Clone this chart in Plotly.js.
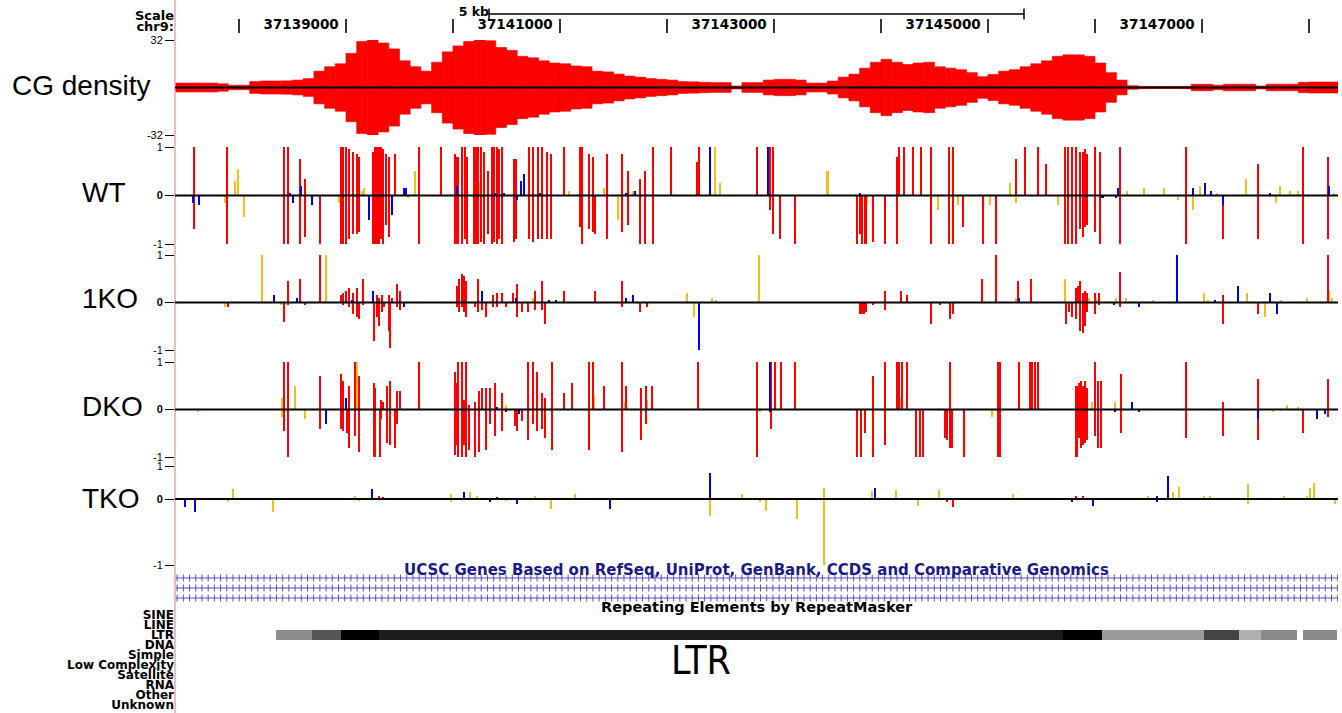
<!DOCTYPE html>
<html><head><meta charset="utf-8">
<script src="https://cdn.plot.ly/plotly-3.0.1.min.js"></script>
<style>html,body{margin:0;padding:0;background:#fff}#chart{width:1342px;height:713px}</style>
</head><body><div id="chart"></div>
<script>
// ---------------- DATA ----------------
const viewStart = 37137402, viewEnd = 37148271;
const coordTicks = [37138000,37139000,37140000,37141000,37142000,37143000,37144000,37145000,37146000,37147000,37148000];
const coordLabels = ['','37139000','','37141000','','37143000','','37145000','','37147000',''];
const scaleBarBp = 5000, scaleBarLabel = '5 kb';

// CG density, 100 bp bins
const cgStart = 37137400, cgStep = 100;
const cgDensity = [3,3,3,3,2.5,1.5,1.5,4,4.4,4.4,
4.5,5,6,11,14,16,23,31,32,30,
26,18,14,11,17,24,28,31,32.5,31.5,
27,25,21,20,18,16.5,16,14.5,14,11,
10.5,9,7.7,7,6,5.5,5,4,3.8,3.5,
3.3,3.3,1,3.3,3.3,5,5.5,5.5,5,3,
3,4.4,7,9,13,17,19,17,15.5,16.5,
17,14,13,12,10,7.3,8.8,11,12,14,
16,18,21,22,22,21,16.5,10,5,1.2,
0.8,0.7,0.7,0.7,0.8,2.2,2.2,1.5,2.2,2.2,
2.2,1,2.2,2.2,2.2,3.5,3.7,3.7,3.7];

// methylation sites: [position, plus-strand value, minus-strand value]
const wtRed = [[37137579,1,-0.7],[37137892,1,-1],[37138425,1,-1],[37138455,1,-1],[37138567,0.75,-1],[37138621,0.35,-0.85],[37138759,0,-1],
[37138955,1,-1],[37138975,1,-1],[37138996,1,-1],[37139025,0.95,-0.9],[37139067,0.9,-0.8],[37139100,0.85,-0.8],[37139125,0.8,-0.75],
[37139250,0.9,-1],[37139267,1,-1],[37139288,1,-1],[37139309,1,-1],[37139330,1,-0.9],[37139350,0.95,-1],[37139375,0.85,-0.6],[37139400,0.8,-0.85],
[37139459,0.85,0],[37139684,1,-1],[37139892,1,0],[37140017,0.85,-1],[37140042,0.8,-1],[37140084,1,-1],[37140109,1,-0.9],[37140134,0.8,-1],
[37140192,1,-1],[37140217,1,-1],[37140238,1,-1],[37140259,1,-0.95],[37140292,0.9,-1],[37140330,0.5,-0.8],[37140363,1,-1],[37140384,1,-0.95],
[37140409,1,-1],[37140434,0.95,-0.9],[37140459,1,-1],[37140567,0.75,-0.95],[37140592,0.75,-0.9],[37140709,1,-0.9],[37140750,1,-0.95],
[37140792,1,-0.9],[37140834,1,-0.9],[37140875,0.9,-0.9],[37140917,0.85,-0.9],[37141038,1,0],[37141184,1,-0.65],[37141209,1,-1],
[37141275,0.85,-0.7],[37141309,0.8,-0.75],[37141330,0,-0.8],[37141442,0.85,-0.9],[37141580,0.85,-0.75],[37141634,0.5,-0.6],[37141750,0.35,-1],
[37141792,0.5,-1],[37141871,1,-1],[37142038,1,0],[37142280,0.7,0],[37142300,1,0],[37142844,1,0],[37142965,1,-0.3],[37142988,1,-0.8],
[37143058,0,-0.9],[37143194,0,-1],[37143772,0,-1],[37143801,0,-0.8],[37143822,0,-1],[37143855,0,-1],[37143925,0,-0.95],[37144036,0,-1],
[37144152,0.8,-1],[37144172,1,0],[37144214,1,0],[37144296,1,0],[37144378,1,0],[37144469,1,-1],[37144638,1,-1],[37144671,1,-1],
[37144770,0,-0.65],[37144956,0,-1],[37145072,0,-1],[37145266,0.75,0],[37145348,1,0],[37145464,1,0],[37145542,0.65,0],[37145719,1,-1],
[37145744,1,-1],[37145781,1,-1],[37145823,1,-1],[37145864,0.9,-0.7],[37145884,0.9,-0.85],[37145905,0.95,-0.65],[37145926,0.85,-0.6],
[37146000,1,-0.75],[37146050,0.9,-1],[37146235,1,-1],[37146846,1,-1],[37147197,0,-0.9],[37147527,0.65,-0.9],[37147948,1,-1],[37148174,0.8,-0.9]];
const wtYellow = [[37137871,0,-0.15],[37137963,0.3,0],[37137988,0.55,0],[37138050,0,-0.45],[37138934,0,-0.15],[37139150,0.1,0],[37139171,0.15,0],
[37139579,0,-0.05],[37139642,0.5,0],[37140246,0.25,0],[37141080,0.1,0],[37141413,0.15,0],[37141538,0,-0.5],[37141684,0.1,0],[37142452,1,0],
[37142493,0.25,0],[37143500,0.5,0],[37143871,0,-0.2],[37144296,0.15,0],[37144531,0,-0.3],[37144721,0,-0.2],[37145018,0,-0.2],[37145204,0.25,0],
[37145266,0,-0.15],[37145658,0,-0.2],[37146297,0.1,0],[37146462,0.15,0],[37146648,0.15,0],[37146772,0,-0.1],[37146916,0,-0.3],[37146978,0.2,0],
[37147143,0.05,0],[37147411,0.35,0],[37147692,0,-0.15],[37147733,0.2,0],[37147824,0.1,0],[37147898,0.1,0],[37148236,0.05,0]];
const wtBlue = [[37137567,0,-0.15],[37137630,0,-0.2],[37138475,0.05,0],[37138509,0,-0.15],[37138580,0.2,0],[37138684,0,-0.2],[37139217,0,-0.5],
[37139434,0,-0.4],[37139538,0.15,0],[37139559,0.15,0],[37140038,0.2,0],[37140392,0.05,0],[37140475,0.05,0],[37140600,0,-0.1],[37140634,0.3,0],
[37140663,0.45,0],[37140809,0.05,0],[37141621,0.05,0],[37141705,0.1,0],[37142398,1,0],[37142947,1,0],[37143801,0.05,0],[37146070,0,-0.05],
[37146194,0,-0.05],[37146214,0.15,0],[37146916,0.15,0],[37147032,0.25,0],[37147081,0.1,0],[37147197,0,-0.2],[37147638,0.05,0],[37148187,0.2,0]];

const ko1Red = [[37137900,0,-0.1],[37138425,0,-0.4],[37138459,0.45,-0.05],[37138567,0.5,0],[37138621,0,-0.05],[37138759,1,0],[37138955,0.15,0],
[37138975,0.2,-0.05],[37138996,0.25,0],[37139025,0.3,-0.1],[37139067,0.2,-0.25],[37139100,0.3,-0.3],[37139121,0,-0.35],[37139163,0.5,-0.05],
[37139259,0,-0.8],[37139288,0.15,-0.3],[37139309,0.1,-0.5],[37139334,0.15,-0.2],[37139359,0,-0.1],[37139400,0.15,-0.6],[37139413,0,-0.95],
[37139434,0.1,0],[37139475,0.4,-0.1],[37139509,0.25,-0.15],[37140038,0.35,-0.1],[37140059,0.5,-0.2],[37140080,0.6,-0.1],[37140100,0.55,-0.2],
[37140122,0.45,-0.3],[37140205,0,-0.1],[37140238,0.5,-0.2],[37140267,0.1,-0.15],[37140309,0,-0.3],[37140371,0.15,-0.1],[37140413,0.2,-0.1],
[37140455,0.2,0],[37140496,0,-0.1],[37140559,0.2,0],[37140600,0.4,-0.3],[37140642,0,-0.2],[37140704,0,-0.2],[37140767,0.25,-0.15],
[37140830,0.45,-0.15],[37140859,0,-0.45],[37141038,0.25,0],[37141330,0.25,0],[37141580,0.45,-0.1],[37141746,0,-0.2],[37141809,0,-0.1],
[37143801,0,-0.25],[37143822,0,-0.25],[37143842,0,-0.25],[37143863,0,-0.2],[37143925,0,-0.05],[37144036,0.25,-0.15],[37144185,0.25,0],
[37144247,0.15,0],[37144469,0,-0.45],[37144552,0,-0.05],[37144647,0,-0.35],[37144676,0,-0.25],[37144948,0.5,0],[37145072,1,0],[37145278,0.45,0],
[37145398,0.5,0],[37145728,0,-0.45],[37145761,0,-0.2],[37145782,0,-0.3],[37145823,0.3,-0.35],[37145843,0.35,0],[37145864,0.45,-0.6],
[37145884,0.2,-0.65],[37145905,0.25,-0.5],[37145926,0.2,-0.2],[37146000,0.2,-0.25],[37146041,0.2,-0.05],[37146235,0.65,-0.1],[37147197,0.15,-0.45],
[37147527,0,-0.25],[37148174,1,0]];
const ko1Yellow = [[37137871,0,-0.1],[37138217,1,0],[37138392,0,-0.05],[37138809,1,0],[37140746,0.1,0],[37142190,0.2,0],[37142250,0,-0.3],
[37142419,0.1,0],[37142460,0.05,0],[37142864,1,0],[37145266,0.1,0],[37145719,0.5,0],[37145944,0.1,0],[37146007,0.1,0],[37146194,0.1,0],
[37146289,0.1,0],[37146545,0.05,0],[37147019,0.2,0],[37147060,0.05,0],[37147419,0.2,0],[37147589,0,-0.3],[37147742,0.05,0],[37147980,0.1,0],
[37148187,0.25,0],[37148216,0.1,0]];
const ko1Blue = [[37138330,0.15,0],[37138538,0.1,0],[37139059,0.05,0],[37139250,0.25,0],[37139538,0,-0.1],[37140267,0.25,0],[37140588,0.1,0],
[37140900,0.05,0],[37140967,0.05,0],[37141621,0.1,0],[37141684,0.15,0],[37142303,0,-1],[37145286,0.1,0],[37146174,0,-0.05],[37146412,0,-0.1],
[37146763,1,0],[37147124,0.05,0],[37147337,0.35,0],[37147638,0.2,0],[37147700,0,-0.25]];

const dkoRed = [[37138425,1,-0.45],[37138455,1,-1],[37138759,0.7,-0.4],[37138955,0.75,-0.4],[37138975,0.6,-0.45],[37139009,0,-0.5],[37139030,0.5,-0.8],
[37139080,1,-0.55],[37139121,0.7,-0.9],[37139259,0.55,-1],[37139275,0.45,-1],[37139317,0,-1],[37139330,0.2,-0.2],[37139350,0.15,0],[37139384,0.5,-0.7],
[37139413,0.6,-0.75],[37139454,0,-0.8],[37139475,0.4,-0.3],[37139509,0.4,0],[37139684,1,0],[37140017,0.8,-0.95],[37140034,0.55,-0.75],[37140050,1,-1],
[37140084,1,-1],[37140100,0.2,-0.75],[37140125,1,-1],[37140150,0.1,-0.85],[37140205,0.15,-1],[37140246,0.4,-0.9],[37140267,0.45,0],[37140309,0.45,-0.85],
[37140350,0.45,-0.3],[37140392,0.55,-0.55],[37140455,0.35,-0.45],[37140580,0,-0.35],[37140600,0,-0.45],[37140642,0,-0.25],[37140704,1,-0.65],
[37140746,1,-0.3],[37140788,0.8,-0.45],[37140830,0.35,-0.4],[37140859,0.25,-0.6],[37140921,1,-0.85],[37141038,0.35,0],[37141113,0.55,0],
[37141275,1,-0.85],[37141309,1,0],[37141413,0.5,0],[37141580,1,-0.9],[37141621,0.5,0],[37141759,0.45,-0.65],[37141800,0.5,-0.3],[37141863,0.5,0],
[37142288,1,0],[37142844,1,-1],[37142968,1,-0.4],[37143009,1,0],[37143066,1,0],[37143194,1,0],[37143772,0,-1],[37143813,0,-1],[37143850,0,-0.5],
[37143925,0.7,-1],[37144036,1,-0.75],[37144152,1,0],[37144172,1,0],[37144193,1,0],[37144242,1,0],[37144329,0,-1],[37144366,0,-1],[37144391,0,-1],
[37144597,0,-0.6],[37144614,0,-0.65],[37144647,1,-0.8],[37144667,0,-0.8],[37144779,0,-1],[37145092,1,-1],[37145109,1,-1],[37145286,1,0],
[37145389,1,0],[37145414,1,0],[37145439,1,0],[37145464,1,0],[37145827,0.5,-1],[37145852,0.55,-0.6],[37145868,0.6,-0.8],[37145884,0.5,-0.75],
[37145905,0.6,-0.7],[37145926,0.45,-0.65],[37146000,1,-0.55],[37146029,0.6,-0.8],[37146058,0.6,-0.8],[37146243,0.75,-0.5],[37146846,1,-0.6],
[37147197,0.15,-0.55],[37147527,0.65,-0.65],[37147940,0,-0.5],[37148145,0,-0.05],[37148174,0.65,-0.15]];
const dkoYellow = [[37137621,0,-0.05],[37138404,0.25,-0.15],[37138525,0.5,0],[37138621,0,-0.2],[37139100,1,0],[37140496,0.1,0],[37141321,0.3,0],
[37141604,0.15,0],[37141809,0.2,0],[37142872,0,-0.05],[37144180,0.25,0],[37145039,0,-0.15],[37145968,0.15,0],[37146186,0.15,0],[37147131,0,-0.03],
[37147667,0,-0.05],[37147795,0.1,0],[37147894,0.05,0]];
const dkoBlue = [[37138809,0,-0.3],[37138996,0.25,0],[37140413,0.05,0],[37140496,0,-0.05],[37140613,0,-0.1],[37142965,1,-0.05],[37146190,0,-0.05],
[37146347,0.15,0],[37146412,0,-0.05],[37147527,0,-0.2],[37148071,0,-0.2],[37148153,0,-0.1]];

const tkoRed = [[37139309,0.05,0],[37139342,0.03,0],[37144614,0,-0.05],[37144671,0,-0.12],[37145823,0.04,0],[37145884,0.04,0]];
const tkoYellow = [[37137900,0,-0.05],[37137942,0.15,0],[37138317,0,-0.2],[37139080,0.05,0],[37139121,0,-0.03],[37139984,0.07,-0.05],[37140163,0.1,0],
[37140226,0.05,0],[37140496,0,-0.03],[37140767,0.05,0],[37140913,0,-0.15],[37141142,0.07,0],[37142398,0,-0.25],[37142699,0.08,0],[37142873,0,-0.05],
[37142922,0,-0.18],[37143211,0,-0.3],[37143463,0.17,-1],[37143912,0.12,0],[37144143,0.13,0],[37144350,0,-0.1],[37144544,0.13,0],[37145233,0.08,0],
[37146495,0.05,0],[37146730,0.1,0],[37146784,0.18,0],[37147019,0.04,0],[37147073,0.04,0],[37147432,0.22,-0.08],[37147762,0.05,0],[37147980,0.05,0],
[37148009,0.17,0],[37148051,0.25,0],[37148245,0,-0.08]];
const tkoBlue = [[37137496,0,-0.12],[37137592,0,-0.2],[37138475,0.02,0],[37139246,0.15,0],[37140100,0.1,0],[37140350,0,-0.05],[37140413,0.03,0],
[37140600,0,-0.08],[37141467,0,-0.15],[37142398,0.4,0],[37143945,0.16,0],[37145781,0,-0.05],[37145980,0,-0.1],[37146577,0.05,-0.05],[37146681,0.35,0]];

// genes (all three transcripts span the whole view, minus strand)
const geneStarts = [37120000, 37120000, 37120000];
const geneEnds = [37170000, 37170000, 37170000];
const geneTitle = 'UCSC Genes Based on RefSeq, UniProt, GenBank, CCDS and Comparative Genomics';

// repeats
const repeatClasses = ['SINE','LINE','LTR','DNA','Simple','Low Complexity','Satellite','RNA','Other','Unknown'];
const repeatStarts = [37138346,37138682,37138953,37139308,37145701,37146065,37147019,37147346,37147551,37147944];
const repeatEnds   = [37138682,37138953,37139308,37145701,37146065,37147019,37147346,37147551,37147888,37148262];
const repeatShade  = [140,85,0,28,0,155,68,176,138,138];
const repeatTitle = 'Repeating Elements by RepeatMasker';

// ---------------- LAYOUT HELPERS ----------------
const H = 713, L = 175, PW = 1342 - 175 - 4;
const dom = (t, b) => [1 - b / H, 1 - t / H];
const px2x = p => (p - L) / PW;
const px2y = p => 1 - p / H;
const RED = '#ff0000', YEL = '#eec21c', BLU = '#0000f0';
const BOLD = {family:'DejaVu Sans', weight:'bold', color:'#000'};
const traces = [];

// header
traces.push({type:'scatter', mode:'markers+text', x:coordTicks, y:coordTicks.map(() => 26), text:coordLabels,
  textposition:'middle left', textfont:Object.assign({}, BOLD, {size:13.5}),
  marker:{symbol:'line-ns', size:10, color:'#000', line:{width:1.6, color:'#000'}},
  xaxis:'x', yaxis:'y', hoverinfo:'skip', cliponaxis:false});
const mid = (viewStart + viewEnd) / 2;
traces.push({type:'scatter', mode:'lines+markers', x:[mid - scaleBarBp/2, mid + scaleBarBp/2], y:[14, 14],
  line:{color:'#000', width:1.6}, marker:{symbol:'line-ns', size:8, color:'#000', line:{width:1.5, color:'#000'}},
  xaxis:'x', yaxis:'y', hoverinfo:'skip', cliponaxis:false});
traces.push({type:'scatter', mode:'text', x:[mid - scaleBarBp/2], y:[13], text:[scaleBarLabel], textposition:'middle left',
  textfont:Object.assign({}, BOLD, {size:12.5}), xaxis:'x', yaxis:'y', hoverinfo:'skip', cliponaxis:false});

// CG density mirrored bars
const cgX = cgDensity.map((v, i) => cgStart + cgStep * (i + 0.5));
const cgMarker = {color:RED, line:{width:0.6, color:'#e20000'}};
traces.push({type:'bar', x:cgX, y:cgDensity, width:cgStep, marker:cgMarker, xaxis:'x', yaxis:'y2', hoverinfo:'skip'});
traces.push({type:'bar', x:cgX, y:cgDensity.map(v => -v), width:cgStep, marker:cgMarker, xaxis:'x', yaxis:'y2', hoverinfo:'skip'});

// methylation tracks
const tracks = [
  {axis:'y3', sets:[[wtYellow, YEL], [wtRed, RED], [wtBlue, BLU]]},
  {axis:'y4', sets:[[ko1Yellow, YEL], [ko1Red, RED], [ko1Blue, BLU]]},
  {axis:'y5', sets:[[dkoYellow, YEL], [dkoRed, RED], [dkoBlue, BLU]]},
  {axis:'y6', sets:[[tkoYellow, YEL], [tkoRed, RED], [tkoBlue, BLU]]}
];
tracks.forEach(t => {
  t.sets.forEach(([arr, col]) => {
    const xs = arr.map(s => s[0]).concat(arr.map(s => s[0]));
    const ys = arr.map(s => s[1]).concat(arr.map(s => s[2]));
    traces.push({type:'bar', x:xs, y:ys, width:19, marker:{color:col, line:{width:0}}, xaxis:'x', yaxis:t.axis, hoverinfo:'skip'});
  });
});

// genes
geneStarts.forEach((s, i) => {
  traces.push({type:'scatter', mode:'lines', x:[s, geneEnds[i]], y:[i + 1, i + 1], line:{color:'#8a8ad6', width:1.4},
    xaxis:'x', yaxis:'y7', hoverinfo:'skip'});
  const marks = [];
  for (let p = Math.max(s, viewStart) + 20; p < Math.min(geneEnds[i], viewEnd); p += 58) marks.push(p);
  traces.push({type:'scatter', mode:'markers', x:marks, y:marks.map(() => i + 1),
    marker:{symbol:'line-ns', size:5, color:'#5252b8', line:{width:1, color:'#5252b8'}},
    xaxis:'x', yaxis:'y7', hoverinfo:'skip'});
});

// repeats
const ltrRow = repeatClasses.indexOf('LTR');
traces.push({type:'bar', orientation:'h', base:repeatStarts, x:repeatEnds.map((e, i) => e - repeatStarts[i]),
  y:repeatStarts.map(() => ltrRow), width:0.95,
  marker:{color:repeatShade.map(g => `rgb(${g},${g},${g})`), line:{width:0}}, xaxis:'x', yaxis:'y8', hoverinfo:'skip'});

const yBase = {showgrid:false, zeroline:false, showline:false, fixedrange:true, anchor:'x', autorange:false};
const tickFontSmall = {family:'Liberation Sans', size:11, color:'#000'};
const methAxis = (t, b, rng, tv, tt) => Object.assign({}, yBase, {domain:dom(t, b), range:rng, tickvals:tv, ticktext:tt,
  ticks:'outside', ticklen:9, tickwidth:1, tickcolor:'#000', tickfont:tickFontSmall});

const layout = {
  width:1342, height:713, margin:{l:L, r:4, t:0, b:0}, paper_bgcolor:'#fff', plot_bgcolor:'#fff',
  showlegend:false, barmode:'overlay', bargap:0,
  xaxis:{range:[viewStart, viewEnd], visible:false, fixedrange:true},
  yaxis:Object.assign({}, yBase, {domain:dom(0, 40), range:[40, 0], tickvals:[15, 26], ticktext:['Scale', 'chr9:'], ticks:'',
    tickfont:Object.assign({}, BOLD, {size:13})}),
  yaxis2:methAxis(40, 135, [-32, 32], [32, -32], ['32', '-32']),
  yaxis3:methAxis(147, 244, [-1, 1], [1, 0, -1], ['1', '<b>0</b>', '-1']),
  yaxis4:methAxis(255, 350, [-1, 1], [1, 0, -1], ['1', '<b>0</b>', '-1']),
  yaxis5:methAxis(362, 457, [-1, 1], [1, 0, -1], ['1', '<b>0</b>', '-1']),
  yaxis6:methAxis(466, 565, [-1, 0.5], [0.5, 0, -1], ['1', '<b>0</b>', '-1']),
  yaxis7:Object.assign({}, yBase, {domain:dom(573, 603), range:[3.5, 0.5], showticklabels:false, ticks:''}),
  yaxis8:Object.assign({}, yBase, {domain:dom(610, 710), range:[repeatClasses.length - 0.5, -0.5],
    tickvals:repeatClasses.map((c, i) => i), ticktext:repeatClasses, ticks:'',
    tickfont:Object.assign({}, BOLD, {size:12})}),
  shapes:[
    {type:'line', xref:'paper', yref:'paper', x0:0, x1:0, y0:0, y1:1, line:{color:'#f2a4a4', width:1.5}, layer:'above'}
  ].concat(['y2','y3','y4','y5','y6'].map(a => ({type:'line', xref:'x domain', yref:a, x0:0, x1:1, y0:0, y1:0,
    line:{color:'#000', width:2.2}, layer:'above'}))),
  annotations:[
    ['CG density', 10, 85], ['WT', 80, 192], ['1KO', 80, 298], ['DKO', 80, 406], ['TKO', 80, 498]
  ].map(([t, x, y]) => ({text:t, xref:'paper', yref:'paper', x:px2x(x), y:px2y(y), xanchor:'left', yanchor:'middle',
    showarrow:false, font:{family:'Liberation Sans', size:28, color:'#000'}})).concat([
    {text:geneTitle, xref:'paper', yref:'paper', x:0.5, y:px2y(570), xanchor:'center', yanchor:'middle', showarrow:false,
      font:{family:'DejaVu Sans', weight:'bold', size:15, color:'#1a1a84'}},
    {text:repeatTitle, xref:'paper', yref:'paper', x:0.5, y:px2y(607), xanchor:'center', yanchor:'middle', showarrow:false,
      font:{family:'DejaVu Sans', weight:'bold', size:14.5, color:'#000'}},
    {text:'LTR', xref:'paper', yref:'paper', x:px2x(701), y:px2y(660), xanchor:'center', yanchor:'middle', showarrow:false,
      font:{family:"'DejaVu Sans Condensed', 'Liberation Sans', sans-serif", size:39, color:'#000'}}
  ])
};

Plotly.newPlot('chart', traces, layout, {displayModeBar:false, staticPlot:true});
</script>
</body></html>
